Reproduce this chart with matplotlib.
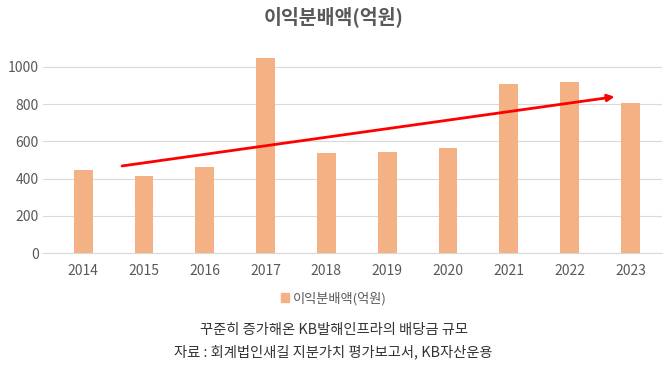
import matplotlib.pyplot as plt
from matplotlib.patches import Patch

plt.rcParams['font.family'] = ['Noto Sans CJK KR', 'DejaVu Sans']

years = ['2014', '2015', '2016', '2017', '2018', '2019', '2020', '2021', '2022', '2023']
payout = [446, 414, 461, 1045, 539, 545, 563, 907, 920, 804]
yticks = [0, 200, 400, 600, 800, 1000]

# trend arrow endpoints (category index, value)
arrow_start = (0.64, 468)
arrow_end = (8.74, 839)

title = '이익분배액(억원)'
legend_label = '이익분배액(억원)'
caption1 = '꾸준히 증가해온 KB발해인프라의 배당금 규모'
caption2 = '자료 : 회계법인새길 지분가치 평가보고서, KB자산운용'

bar_color = '#F4B183'
text_color = '#595959'

fig = plt.figure(figsize=(6.67, 3.67), dpi=100)
ax = fig.add_axes([0.0645, 0.310, 0.928, 0.559])

x = list(range(len(years)))
ax.bar(x, payout, width=0.31, color=bar_color, zorder=2)

ax.annotate('', xy=arrow_end, xytext=arrow_start,
            arrowprops=dict(arrowstyle='-|>', color='#FF0000', lw=2,
                            mutation_scale=10, shrinkA=0, shrinkB=0),
            zorder=3)

ax.set_xlim(-0.66, 9.52)
ax.set_ylim(0, 1100)
ax.set_yticks(yticks)
ax.set_xticks(x)
ax.set_xticklabels(years)
ax.grid(axis='y', color='#D9D9D9', lw=0.8, zorder=0)
for s in ['top', 'right', 'left']:
    ax.spines[s].set_visible(False)
ax.spines['bottom'].set_color('#D9D9D9')
ax.tick_params(axis='both', length=0, labelsize=10, colors=text_color)
ax.tick_params(axis='x', pad=8)
ax.tick_params(axis='y', pad=3)

fig.text(0.5, 0.955, title, ha='center', va='center', fontsize=14,
         fontweight='bold', color=text_color)

leg = fig.legend(handles=[Patch(color=bar_color, label=legend_label)],
                 loc='center', bbox_to_anchor=(0.5, 0.187), frameon=False,
                 fontsize=9.5, handlelength=0.6, handleheight=0.6,
                 handletextpad=0.3)
for t in leg.get_texts():
    t.set_color(text_color)

fig.text(0.5, 0.100, caption1, ha='center', va='center', fontsize=10.3, color='#333333')
fig.text(0.5, 0.040, caption2, ha='center', va='center', fontsize=10.3, color='#333333')

fig.savefig('out.png', dpi=100)
